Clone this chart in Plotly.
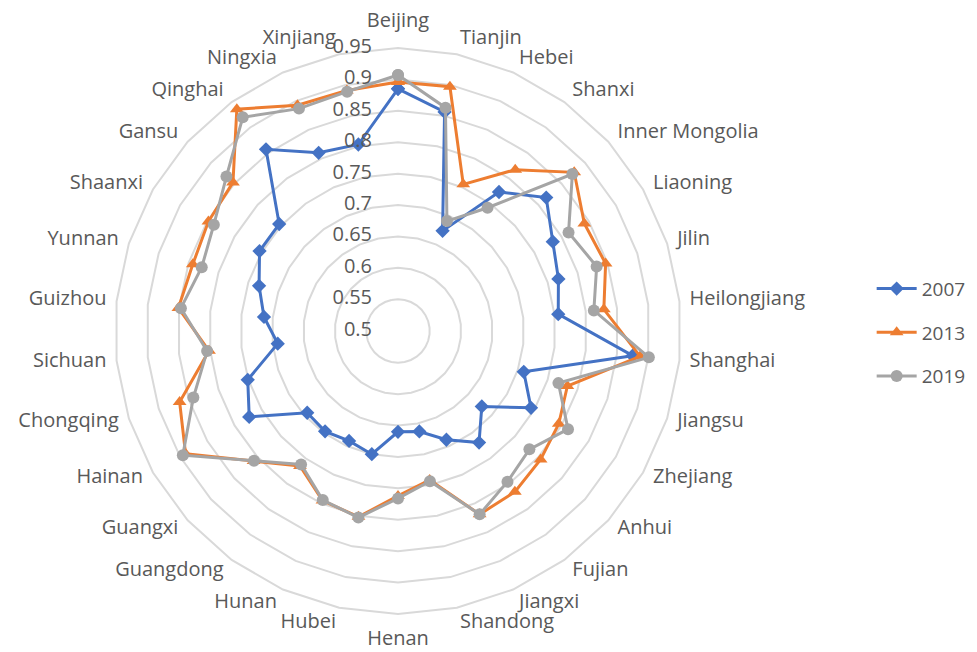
import math
import plotly.graph_objects as go

provinces = ["Beijing", "Tianjin", "Hebei", "Shanxi", "Inner Mongolia", "Liaoning", "Jilin",
             "Heilongjiang", "Shanghai", "Jiangsu", "Zhejiang", "Anhui", "Fujian", "Jiangxi",
             "Shandong", "Henan", "Hubei", "Hunan", "Guangdong", "Guangxi", "Hainan",
             "Chongqing", "Sichuan", "Guizhou", "Yunnan", "Shaanxi", "Gansu", "Qinghai",
             "Ningxia", "Xinjiang"]

v2007 = [0.885, 0.856, 0.674, 0.773, 0.817, 0.784, 0.768, 0.756, 0.875, 0.710,
         0.744, 0.679, 0.719, 0.689, 0.663, 0.660, 0.700, 0.691, 0.697, 0.694,
         0.773, 0.751, 0.692, 0.714, 0.732, 0.754, 0.754, 0.857, 0.810, 0.803]

v2013 = [0.896, 0.897, 0.755, 0.817, 0.877, 0.842, 0.847, 0.829, 0.887, 0.783,
         0.795, 0.805, 0.816, 0.819, 0.742, 0.762, 0.802, 0.795, 0.765, 0.809,
         0.890, 0.865, 0.802, 0.851, 0.843, 0.848, 0.853, 0.936, 0.893, 0.891]

v2019 = [0.907, 0.863, 0.691, 0.742, 0.873, 0.813, 0.832, 0.813, 0.901, 0.768,
         0.812, 0.781, 0.796, 0.819, 0.744, 0.766, 0.803, 0.794, 0.762, 0.808,
         0.895, 0.842, 0.805, 0.847, 0.828, 0.838, 0.867, 0.920, 0.887, 0.889]

radial_ticks = [0.5, 0.55, 0.6, 0.65, 0.7, 0.75, 0.8, 0.85, 0.9, 0.95]
radial_labels = ["0.5", "0.55", "0.6", "0.65", "0.7", "0.75", "0.8", "0.85", "0.9", "0.95"]

series = [
    ("2007", v2007, "#4472C4", "diamond", 11),
    ("2013", v2013, "#ED7D31", "triangle-up", 12),
    ("2019", v2019, "#A5A5A5", "circle", 12),
]

TEXT = "#595959"
GRID = "#D9D9D9"
FONT = "Open Sans, Noto Sans, sans-serif"

fig = go.Figure()
for name, vals, color, sym, msize in series:
    fig.add_trace(go.Scatterpolar(
        r=vals + vals[:1],
        theta=provinces + provinces[:1],
        mode="lines+markers",
        name=name,
        legendgroup=name,
        line=dict(color=color, width=3),
        marker=dict(color=color, symbol=sym, size=msize),
    ))

# category labels placed just outside the outer ring
n = len(provinces)
label_pos, label_r = [], []
for i in range(n):
    a = i * 360.0 / n
    if a == 0:
        label_pos.append("top center")
    elif a == 180:
        label_pos.append("bottom center")
    elif a < 180:
        label_pos.append("middle right")
    else:
        label_pos.append("middle left")
    label_r.append(0.966 + 0.0088 * math.cos(math.radians(a)) ** 2)

fig.add_trace(go.Scatterpolar(
    r=label_r,
    theta=provinces,
    mode="text",
    text=provinces,
    textposition=label_pos,
    textfont=dict(family=FONT, size=20, color=TEXT),
    showlegend=False,
    hoverinfo="skip",
    cliponaxis=False,
))

# radial value labels, left of the vertical axis
fig.add_trace(go.Scatterpolar(
    r=radial_ticks,
    theta=[provinces[0]] * len(radial_ticks),
    mode="text",
    text=[t + "\u00a0" * 5 for t in radial_labels],
    textposition="middle left",
    textfont=dict(family=FONT, size=20, color=TEXT),
    showlegend=False,
    hoverinfo="skip",
    cliponaxis=False,
))

# page body margin of 8px shifts the drawing; compensate
cx, cy = 398 - 8, 331 - 8
r95 = 283
rmin, rmax = 0.4995, 1.0
R = r95 * (rmax - rmin) / (0.95 - rmin)

fig.update_layout(
    width=977, height=652,
    paper_bgcolor="white",
    plot_bgcolor="white",
    margin=dict(l=0, r=0, t=0, b=0),
    font=dict(family=FONT, color=TEXT, size=18),
    polar=dict(
        domain=dict(x=[(cx - R) / 977, (cx + R) / 977],
                    y=[1 - (cy + R) / 652, 1 - (cy - R) / 652]),
        bgcolor="white",
        gridshape="linear",
        angularaxis=dict(
            direction="clockwise",
            rotation=90,
            showgrid=False,
            showline=False,
            ticks="",
            showticklabels=False,
        ),
        radialaxis=dict(
            range=[rmin, rmax],
            tickvals=radial_ticks,
            angle=90,
            showline=False,
            showticklabels=False,
            ticks="",
            gridcolor=GRID,
            gridwidth=1.5,
        ),
    ),
    legend=dict(
        x=0.884, y=0.502, xanchor="left", yanchor="middle",
        font=dict(family=FONT, size=19, color=TEXT),
        itemwidth=40,
        tracegroupgap=16,
    ),
)

fig.write_html("out.html")
